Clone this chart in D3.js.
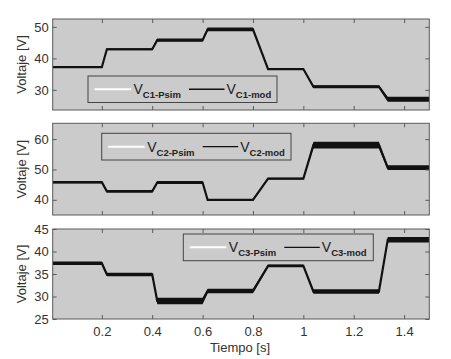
<!DOCTYPE html>
<html>
<head>
<meta charset="utf-8">
<script src="https://cdn.jsdelivr.net/npm/d3@7"></script>
<style>
  body { margin: 0; background: #fff; }
  svg { display: block; font-family: "Liberation Sans", Arial, sans-serif; }
  .axis path, .axis line { stroke: #5a5a5a; }
  .axis text { fill: #333; font-size: 13px; }
  .ylabel, .xlabel { fill: #333; font-size: 13px; }
  .leg text { fill: #222; }
</style>
</head>
<body>
<div id="wrapper"></div>
<script>
// 1. Data
const timePoints = [0.005, 0.2, 0.22, 0.4, 0.42, 0.6, 0.62, 0.8, 0.86, 1.0, 1.04, 1.3, 1.335, 1.5];

const vc1Values = [37.2, 37.2, 42.9, 42.9, 45.8, 45.8, 49.2, 49.2, 36.6, 36.6, 31.0, 31.0, 27.0, 27.0];
const vc1Ripple = [0.2, 0.2, 0.3, 0.3, 0.5, 0.5, 0.6, 0.6, 0.3, 0.3, 0.5, 0.5, 0.8, 0.8];

const vc2Values = [45.8, 45.8, 42.8, 42.8, 45.7, 45.7, 40.0, 40.0, 47.0, 47.0, 58.0, 58.0, 50.6, 50.6];
const vc2Ripple = [0.4, 0.4, 0.4, 0.4, 0.5, 0.5, 0.3, 0.3, 0.3, 0.3, 1.1, 1.1, 0.8, 0.8];

const vc3Values = [37.4, 37.4, 34.9, 34.9, 29.0, 29.0, 31.2, 31.2, 36.8, 36.8, 31.1, 31.1, 42.6, 42.6];
const vc3Ripple = [0.4, 0.4, 0.4, 0.4, 0.7, 0.7, 0.5, 0.5, 0.3, 0.3, 0.5, 0.5, 0.6, 0.6];

const xTicks = [0.2, 0.4, 0.6, 0.8, 1, 1.2, 1.4];
const panelNames = ["C1", "C2", "C3"];
const yDomains = [[23.6, 52.5], [35, 65.2], [25, 45]];
const yTicks = [[30, 40, 50], [40, 50, 60], [25, 30, 35, 40, 45]];

// 2. Dimensions
const dimensions = {
  width: 451,
  height: 359,
  left: 52.7,
  right: 429.3,
};
const panelRows = [[19, 110], [123.3, 215], [229, 319]];
const legendPos = [
  { x: 88, y: 76, w: 189, h: 26.5 },
  { x: 101.7, y: 133.3, w: 189.3, h: 26.7 },
  { x: 183.3, y: 234, w: 190, h: 26.7 },
];

const panels = [
  { values: vc1Values, ripple: vc1Ripple },
  { values: vc2Values, ripple: vc2Ripple },
  { values: vc3Values, ripple: vc3Ripple },
];

// 3. Canvas
const wrapper = d3.select("#wrapper")
  .append("svg")
  .attr("width", dimensions.width)
  .attr("height", dimensions.height);

const xScale = d3.scaleLinear()
  .domain([0.005, 1.5])
  .range([dimensions.left, dimensions.right]);

panels.forEach((p, i) => {
  const [top, bottom] = panelRows[i];
  const yScale = d3.scaleLinear()
    .domain(yDomains[i])
    .range([bottom, top]);

  const data = timePoints.map((t, j) => ({ t: t, v: p.values[j], r: p.ripple[j] }));

  // plot background
  wrapper.append("rect")
    .attr("x", dimensions.left)
    .attr("y", top)
    .attr("width", dimensions.right - dimensions.left)
    .attr("height", bottom - top)
    .style("fill", "#cbcbcb");

  const clipId = `clip${i}`;
  wrapper.append("clipPath").attr("id", clipId)
    .append("rect")
    .attr("x", dimensions.left)
    .attr("y", top)
    .attr("width", dimensions.right - dimensions.left)
    .attr("height", bottom - top);

  const plot = wrapper.append("g").attr("clip-path", `url(#${clipId})`);

  // PSIM trace (white), hidden under the model band
  const lineGen = d3.line()
    .x(d => xScale(d.t))
    .y(d => yScale(d.v));

  plot.append("path")
    .attr("d", lineGen(data))
    .style("fill", "none")
    .style("stroke", "#fff")
    .style("stroke-width", 1.5);

  // model trace: ripple band + centre line
  const areaGen = d3.area()
    .x(d => xScale(d.t))
    .y0(d => yScale(d.v - d.r))
    .y1(d => yScale(d.v + d.r));

  plot.append("path")
    .attr("d", areaGen(data))
    .style("fill", "#111");

  plot.append("path")
    .attr("d", lineGen(data))
    .style("fill", "none")
    .style("stroke", "#111")
    .style("stroke-width", 2.2);

  // axes
  const bottomAxis = d3.axisBottom(xScale)
    .tickValues(xTicks)
    .tickSize(-4)
    .tickPadding(8)
    .tickFormat(i === 2 ? d3.format("") : "");
  wrapper.append("g").attr("class", "axis")
    .attr("transform", `translate(0,${bottom})`)
    .call(bottomAxis)
    .call(g => g.select(".domain").remove());

  wrapper.append("g").attr("class", "axis")
    .attr("transform", `translate(0,${top})`)
    .call(d3.axisTop(xScale).tickValues(xTicks).tickSize(-4).tickFormat(""))
    .call(g => g.select(".domain").remove());

  wrapper.append("g").attr("class", "axis")
    .attr("transform", `translate(${dimensions.left},0)`)
    .call(d3.axisLeft(yScale).tickValues(yTicks[i]).tickSize(-4).tickPadding(4))
    .call(g => g.select(".domain").remove());

  wrapper.append("g").attr("class", "axis")
    .attr("transform", `translate(${dimensions.right},0)`)
    .call(d3.axisRight(yScale).tickValues(yTicks[i]).tickSize(-4).tickFormat(""))
    .call(g => g.select(".domain").remove());

  // frame
  wrapper.append("rect")
    .attr("x", dimensions.left)
    .attr("y", top)
    .attr("width", dimensions.right - dimensions.left)
    .attr("height", bottom - top)
    .style("fill", "none")
    .style("stroke", "#5a5a5a")
    .style("stroke-width", 1);

  // y label
  wrapper.append("text")
    .attr("class", "ylabel")
    .attr("transform", `translate(26,${(top + bottom) / 2}) rotate(-90)`)
    .attr("text-anchor", "middle")
    .text("Voltaje [V]");

  // legend
  const lp = legendPos[i];
  const leg = wrapper.append("g").attr("class", "leg")
    .attr("transform", `translate(${lp.x},${lp.y})`);
  leg.append("rect")
    .attr("width", lp.w)
    .attr("height", lp.h)
    .style("fill", "#cbcbcb")
    .style("stroke", "#444")
    .style("stroke-width", 1);
  const midY = lp.h / 2;
  leg.append("line")
    .attr("x1", 6.5).attr("x2", 43)
    .attr("y1", midY).attr("y2", midY)
    .style("stroke", "#fff").style("stroke-width", 2);
  const t1 = leg.append("text").attr("x", 45.5).attr("y", midY + 5).style("font-size", "14px");
  t1.append("tspan").text("V");
  t1.append("tspan").attr("dy", 4).style("font-size", "9.5px").style("font-weight", "bold")
    .text(`${panelNames[i]}-Psim`);
  leg.append("line")
    .attr("x1", 101).attr("x2", 136.5)
    .attr("y1", midY).attr("y2", midY)
    .style("stroke", "#111").style("stroke-width", 1.3);
  const t2 = leg.append("text").attr("x", 138.5).attr("y", midY + 5).style("font-size", "14px");
  t2.append("tspan").text("V");
  t2.append("tspan").attr("dy", 4).style("font-size", "9.5px").style("font-weight", "bold")
    .text(`${panelNames[i]}-mod`);
});

// x label
wrapper.append("text")
  .attr("class", "xlabel")
  .attr("x", 240)
  .attr("y", 352)
  .attr("text-anchor", "middle")
  .text("Tiempo [s]");
</script>
</body>
</html>
